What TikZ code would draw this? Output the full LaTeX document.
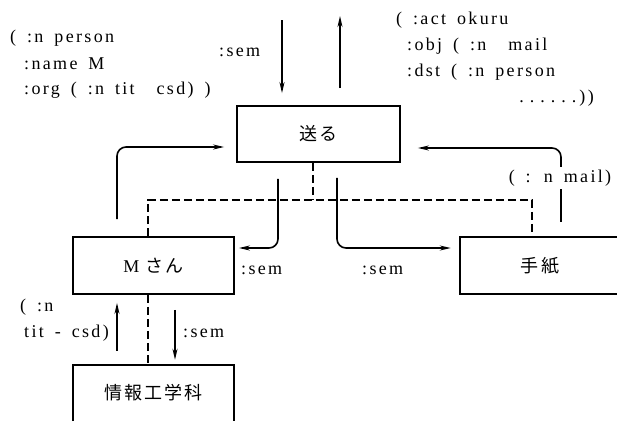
\documentclass[tikz,border=0pt]{standalone}
\usepackage{fontspec}
\setmainfont[LetterSpace=13, WordSpace=1.6]{Liberation Serif}
\newfontfamily\jpfont[LetterSpace=12]{Noto Sans CJK JP}
\usetikzlibrary{arrows.meta}
\tikzset{
  box/.style={rectangle, draw, line width=1.8pt, inner sep=0pt, font=\jpfont\fontsize{18}{20}\selectfont},
  openbox/.style={rectangle, inner sep=0pt, font=\jpfont\fontsize{18}{20}\selectfont},
  arr/.style={line width=1.6pt, -{Stealth[length=11pt,width=5pt]}},
  dsh/.style={line width=1.6pt, dash pattern=on 8pt off 4pt},
  lbl/.style={inner sep=0pt, font=\fontsize{18}{20}\selectfont},
}
\begin{document}
\begin{tikzpicture}[x=1pt,y=-1pt]
\useasboundingbox (0,0) rectangle (617,421);
% boxes
\node[box, minimum width=163pt, minimum height=56pt] (okuru) at (318.5,134) {送る};
\node[box, minimum width=161pt, minimum height=57pt] (msan) at (153.5,265.5) {{\rmfamily M}\,\,さん};
\node[openbox, minimum width=160pt, minimum height=57pt] (tegami) at (540,265.5) {手紙};
\draw[line width=1.8pt] (tegami.north east) -- (tegami.north west) -- (tegami.south west) -- (tegami.south east);
\node[openbox, minimum width=161pt, minimum height=56pt] (joho) at (153.5,393) {情報工学科};
\draw[line width=1.8pt] (joho.south west) -- (joho.north west) -- (joho.north east) -- (joho.south east);

% top arrows
\coordinate (in1) at (282,20);
\coordinate (out1) at (340,16);
\draw[arr, shorten >=12pt] (in1) -- (in1 |- okuru.north);
\draw[arr, shorten <=17pt] (out1 |- okuru.north) -- (out1);
\node[lbl, anchor=west] (semtop) at (219,52) {:sem};

% text blocks
\node[lbl, anchor=west] (l1) at (10,38) {( :n person};
\node[lbl, anchor=west] (l2) at (24,64) {:name M};
\node[lbl, anchor=west] (l3) at (24,90) {:org ( :n tit\ \ csd) )};
\node[lbl, anchor=west] (r1) at (396,20) {( :act okuru};
\node[lbl, anchor=west] (r2) at (407,46) {:obj ( :n\ \ mail};
\node[lbl, anchor=west] (r3) at (407,72) {:dst ( :n person};
\node[lbl, anchor=east] (r4) at (594,98) {.\,\,.\,\,.\,\,.\,\,.\,\,.\,))};

% curved arrows to okuru
\coordinate (lc) at (117,147);
\draw[arr, rounded corners=9pt, shorten <=17pt, shorten >=12pt] (msan.north -| lc) -- (lc) -- (okuru.west |- lc);
\coordinate (rc) at (561,148);
\draw[arr, rounded corners=9pt, shorten <=15pt, shorten >=17pt] (tegami.north -| rc) -- (rc) -- (okuru.east |- rc);
\node[lbl, fill=white, inner sep=3pt] (nmail) at (560,178) {( : n mail)};

% dashed structure
\coordinate (dm) at (313,200);
\coordinate (dl) at (148,200);
\coordinate (dr) at (532,200);
\draw[dsh] (okuru.south -| dm) -- (dm);
\draw[dsh] (msan.north -| dl) -- (dl) -- (dr) -- (tegami.north -| dr);

% sem arrows down
\coordinate (sl) at (278,248);
\draw[arr, rounded corners=9pt, shorten <=16pt, shorten >=4pt] (okuru.south -| sl) -- (sl) -- (msan.east |- sl);
\coordinate (sr) at (337,248);
\draw[arr, rounded corners=9pt, shorten <=15pt, shorten >=9pt] (okuru.south -| sr) -- (sr) -- (tegami.west |- sr);
\node[lbl, anchor=west] (sem1) at (241,270) {:sem};
\node[lbl, anchor=west] (sem2) at (362,270) {:sem};

% bottom links
\coordinate (bu) at (117,302);
\draw[arr, shorten <=14pt, shorten >=8pt] (joho.north -| bu) -- (msan.south -| bu);
\coordinate (bd) at (148,300);
\draw[dsh] (msan.south -| bd) -- (joho.north -| bd);
\coordinate (bdd) at (175,309);
\draw[arr, shorten <=15pt, shorten >=5pt] (msan.south -| bdd) -- (joho.north -| bdd);
\node[lbl, anchor=west] (sem3) at (183,333) {:sem};
\node[lbl, anchor=west] (tn1) at (20,307) {( :n};
\node[lbl, anchor=west] (tn2) at (24,333) {tit - csd)};
\end{tikzpicture}
\end{document}
